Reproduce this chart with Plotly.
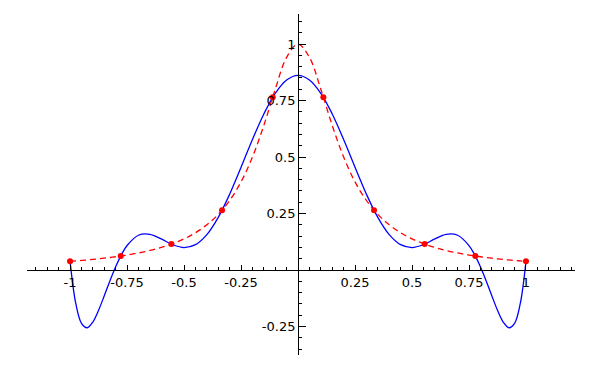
import plotly.graph_objects as go

# Sample nodes (red points)
node_x = [-1.0, -0.7778, -0.5556, -0.3333, -0.1111, 0.1111, 0.3333, 0.5556, 0.7778, 1.0]
node_y = [0.0385, 0.0620, 0.1147, 0.2647, 0.7642, 0.7642, 0.2647, 0.1147, 0.0620, 0.0385]

# Curve sample positions (right half; mirrored to the left)
half_x = [0.0, 0.05, 0.1, 0.15, 0.2, 0.25, 0.3, 0.35, 0.4, 0.45, 0.5, 0.55, 0.6,
          0.65, 0.7, 0.75, 0.775, 0.8, 0.825, 0.85, 0.875, 0.9, 0.925, 0.95, 0.975, 1.0]
# Red dashed curve values
red_half = [1.0, 0.9412, 0.8, 0.64, 0.5, 0.3902, 0.3077, 0.2462, 0.2, 0.1649, 0.1379,
            0.1168, 0.1, 0.0865, 0.0755, 0.0664, 0.0624, 0.0588, 0.0555, 0.0525, 0.0497,
            0.0471, 0.0447, 0.0424, 0.0404, 0.0385]
# Blue curve values
blue_half = [0.8615, 0.8411, 0.7820, 0.6907, 0.5774, 0.4546, 0.3356, 0.2330, 0.1566,
             0.1122, 0.0995, 0.1122, 0.1377, 0.1581, 0.1540, 0.1084, 0.0673, 0.0147,
             -0.0472, -0.1138, -0.1781, -0.2300, -0.2554, -0.2360, -0.1480, 0.0385]

x_ticks = [-1, -0.75, -0.5, -0.25, 0.25, 0.5, 0.75, 1]
x_ticktext = ["-1", "-0.75", "-0.5", "-0.25", "0.25", "0.5", "0.75", "1"]
y_ticks = [-0.25, 0.25, 0.5, 0.75, 1]
y_ticktext = ["-0.25", "0.25", "0.5", "0.75", "1"]

curve_x = [-v for v in half_x[::-1]] + half_x[1:]
red_y = red_half[::-1] + red_half[1:]
blue_y = blue_half[::-1] + blue_half[1:]

xr = [-1.189, 1.215]
yr = [-0.376, 1.133]

fig = go.Figure()
fig.add_trace(go.Scatter(x=curve_x, y=blue_y, mode="lines",
                         line=dict(color="#0000ff", width=1.3, shape="spline"),
                         showlegend=False))
fig.add_trace(go.Scatter(x=curve_x, y=red_y, mode="lines",
                         line=dict(color="#ff0000", width=1.3, shape="spline", dash="6px,4px"),
                         showlegend=False))
fig.add_trace(go.Scatter(x=node_x, y=node_y, mode="markers",
                         marker=dict(color="#ff0000", size=6),
                         showlegend=False))

font = dict(family="DejaVu Sans", size=13, color="black")
fig.update_layout(
    width=592, height=362,
    margin=dict(l=19, r=25, t=6, b=15),
    paper_bgcolor="white", plot_bgcolor="white",
    xaxis=dict(range=xr, showgrid=False, zeroline=False, showline=True,
               linecolor="black", linewidth=1, anchor="free",
               position=(0 - yr[0]) / (yr[1] - yr[0]),
               tickmode="array", tickvals=x_ticks, ticktext=x_ticktext,
               ticks="inside", ticklen=5, tickcolor="black", tickfont=font,
               minor=dict(tickmode="linear", tick0=0, dtick=0.05, ticks="inside",
                          ticklen=3, tickcolor="black", showgrid=False)),
    yaxis=dict(range=yr, showgrid=False, zeroline=False, showline=True,
               linecolor="black", linewidth=1, anchor="free",
               position=(0 - xr[0]) / (xr[1] - xr[0]),
               tickmode="array", tickvals=y_ticks, ticktext=y_ticktext,
               ticks="inside", ticklen=7, tickcolor="black", tickfont=font,
               minor=dict(tickmode="linear", tick0=0, dtick=0.05, ticks="inside",
                          ticklen=3, tickcolor="black", showgrid=False)),
)

fig.write_html("out.html")
